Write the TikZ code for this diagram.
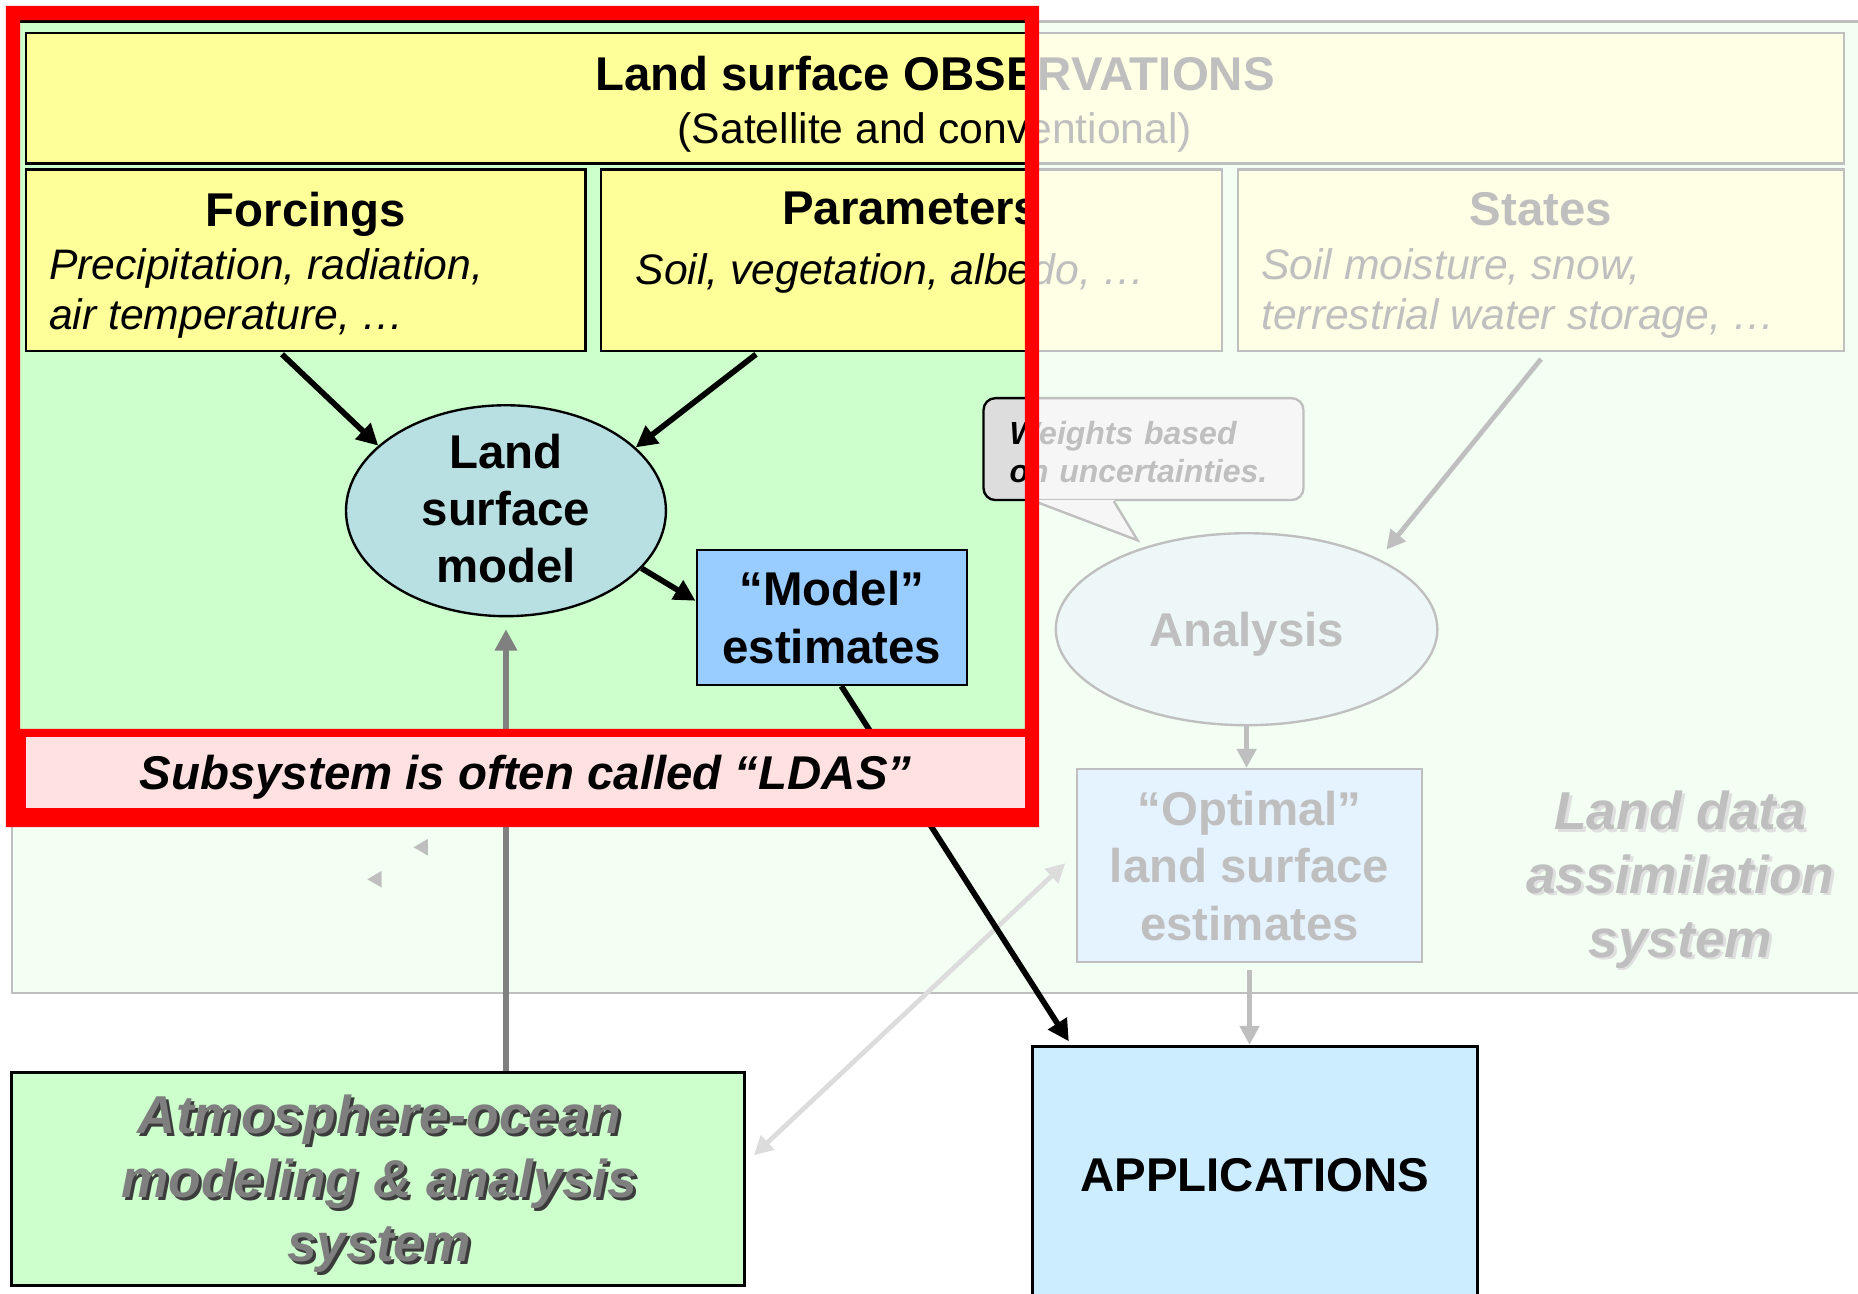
\documentclass[tikz,border=0pt]{standalone}
\usepackage{fontspec}
\setmainfont{Liberation Sans}
\usetikzlibrary{positioning,arrows.meta,shapes.geometric}

\definecolor{colorbackldas}{HTML}{CCFFCC}
\definecolor{colorbackobs}{HTML}{FFFF99}
\definecolor{colorbackmodl}{HTML}{B8E0E2}
\definecolor{colorbackesti}{HTML}{99CCFF}
\definecolor{colorbackappl}{HTML}{CCECFF}
\definecolor{colorbacksubs}{HTML}{FFE1E1}
\definecolor{colorbackcall}{HTML}{DDDDDD}
\definecolor{colorframe}{HTML}{FF0000}
\definecolor{colortextatmo}{HTML}{7F7F7F}
\definecolor{colorshadow}{HTML}{3C3C3C}
\definecolor{colorarrowatmo}{HTML}{808080}
\definecolor{colorarrowfade}{HTML}{BFBFBF}
\definecolor{colorarrowlight}{HTML}{DCDCDC}
\tikzset{
		basic/.style={draw, line width=1pt, inner sep=0pt, align=center, anchor=center, font=\fontsize{20}{24.25}\selectfont\bfseries},
		ldasbox/.style={basic, fill=colorbackldas},
		obsbox/.style={basic, fill=colorbackobs},
		modlell/.style={basic, ellipse, fill=colorbackmodl},
		estibox/.style={basic, fill=colorbackesti},
		applbox/.style={basic, line width=1.2pt, fill=colorbackappl},
		atmobox/.style={basic, line width=1.2pt, fill=colorbackldas},
		callbox/.style={basic, rounded corners=5pt, fill=colorbackcall, align=left, text width=113pt, text height=12pt, font=\fontsize{13.5}{16}\selectfont\bfseries\itshape},
		subsbox/.style={basic, draw=none, fill=colorbacksubs, text depth=0pt, font=\fontsize{20}{24}\selectfont\bfseries\itshape},
		hdtext/.style={inner sep=0pt, font=\fontsize{20}{24}\selectfont\bfseries},
		bodytext/.style={inner sep=0pt, align=left, font=\fontsize{18}{21.5}\selectfont\itshape},
		bigtext/.style={inner sep=0pt, align=center, font=\fontsize{22.5}{27}\selectfont\bfseries\itshape},
		arrowblack/.style={line width=2.4pt, -{Triangle[length=9pt,width=9pt]}},
		arrowatmo/.style={arrowblack, colorarrowatmo, line width=2.5pt},
		arrowfade/.style={line width=2pt, colorarrowfade, -{Triangle[length=8pt,width=8pt]}},
		arrowlight/.style={line width=2pt, colorarrowlight, {Triangle[length=8pt,width=8pt]}-{Triangle[length=8pt,width=8pt]}},
		fade/.style={fill=white, fill opacity=0.75}
	}

\begin{document}
\begin{tikzpicture}[x=0.5pt, y=-0.5pt]
		\useasboundingbox (0,0) rectangle (1568,1092);
		% land data assimilation system
		\node[ldasbox, minimum width=781pt, minimum height=410pt] (ldas) at (791,428) {};
		% observations
		\node[obsbox, minimum width=767pt, minimum height=55pt] (obs) at (789,83) {};
		\node[hdtext, below=9.9pt of obs.north] (obshd) {Land surface OBSERVATIONS};
		\node[bodytext, font=\fontsize{18}{21.5}\selectfont, below=34pt of obs.north] (obstx) {(Satellite and conventional)};
		\node[obsbox, minimum width=236pt, minimum height=76.5pt] (forcings) at (258,219.5) {};
		\node[hdtext, below=9.9pt of forcings.north] (forcingshd) {Forcings};
		\node[bodytext, below right=33.5pt and 10pt of forcings.north west] (forcingstx) {Precipitation, radiation,\\air temperature, …};
		\node[obsbox, minimum width=262pt, minimum height=76.5pt] (params) at (769,219.5) {};
		\node[hdtext, below=9.9pt of params.north] (paramshd) {Parameters};
		\node[bodytext, below right=36pt and 15pt of params.north west] (paramstx) {Soil, vegetation, albedo, …};
		\node[obsbox, minimum width=255.5pt, minimum height=76.5pt] (states) at (1300.5,219.5) {};
		\node[hdtext, below=9.9pt of states.north] (stateshd) {States};
		\node[bodytext, below right=33.5pt and 10pt of states.north west] (statestx) {Soil moisture, snow,\\terrestrial water storage, …};
		% model
		\node[modlell, inner sep=-3pt, text depth=2pt, minimum width=135pt, minimum height=89pt] (lsm) at (427,431) {Land\\surface\\model};
		\node[estibox, minimum width=114pt, minimum height=57pt] (modelest) at (702,521) {“Model”\\estimates};
		\draw[arrowblack] ([xshift=-10pt,yshift=-1pt]forcings.south) -- (lsm.153);
		\draw[arrowblack] ([xshift=-65.5pt,yshift=-1pt]params.south) -- (lsm.26);
		\draw[arrowblack] (lsm.-23) -- ([yshift=7pt]modelest.west);
		% analysis
		\node[callbox, minimum width=135pt, minimum height=43pt] (callout) at (965,379) {Weights based\\on uncertainties.};
		\fill[colorbackcall] ([xshift=-46pt,yshift=0.6pt]callout.south) -- ([xshift=-2.5pt,yshift=-16.5pt]callout.south) -- ([xshift=-12.5pt,yshift=0.6pt]callout.south) -- cycle;
		\draw[line width=1pt] ([xshift=-46pt]callout.south) -- ([xshift=-2.5pt,yshift=-16.5pt]callout.south) -- ([xshift=-12.5pt]callout.south);
		\node[modlell, text depth=0pt, minimum width=161pt, minimum height=81pt] (analysis) at (1052,531) {Analysis};
		\node[estibox, minimum width=145.5pt, minimum height=81.5pt] (optimal) at (1054.5,730.5) {“Optimal”\\land surface\\estimates};
		\node[bigtext, text=colorarrowatmo] (ldastxsh) at (1420.5,744.5) {Land data\\assimilation\\system};
		\node[bigtext] (ldastx) at (1418,742) {Land data\\assimilation\\system};
		% outside
		\node[atmobox, minimum width=309pt, minimum height=90pt] (atmos) at (319,995) {};
		\node[bigtext, text=colorshadow] (atmostxsh) at (322.5,1001.5) {Atmosphere-ocean\\modeling \& analysis\\system};
		\node[bigtext, text=colortextatmo] (atmostx) at (320,999) {Atmosphere-ocean\\modeling \& analysis\\system};
		\node[applbox, minimum width=188pt, minimum height=108.5pt] (apps) at (1059,991.5) {APPLICATIONS};
		% fade
		\fill[fade] (871,15) rectangle (1570,841);
		\fill[fade] (8,690) rectangle (871,841);
		\fill[colorarrowfade] (349,715) -- (361,708) -- (361,722) -- cycle;
		\fill[colorarrowfade] (310,742) -- (322,735) -- (322,749) -- cycle;
		\draw[arrowfade, shorten >=5pt] ([yshift=-3pt]states.south) -- (analysis.28);
		\draw[arrowfade] (analysis.south) -- (analysis.south |- optimal.north);
		\draw[arrowfade] ([yshift=-3pt]optimal.south) -- (optimal.south |- apps.north);
		\draw[arrowlight] ([xshift=3.5pt,yshift=10pt]atmos.east) -- ([xshift=-4.5pt,yshift=1pt]optimal.west);
		\draw[arrowatmo] ([xshift=54pt]atmos.north) -- ([yshift=-5pt]lsm.south);
		\draw[arrowblack] ([xshift=4pt]modelest.south) -- ([xshift=-78.5pt,yshift=1.5pt]apps.north);
		% subsystem
		\fill[colorframe, even odd rule] (5,5) rectangle (877,698) (17,17) rectangle (865,615) (22,622) rectangle (865,682);
		\node[subsbox, minimum width=421.5pt, minimum height=30pt] (subsys) at (443.5,652) {Subsystem is often called “LDAS”};
	\end{tikzpicture}
\end{document}
